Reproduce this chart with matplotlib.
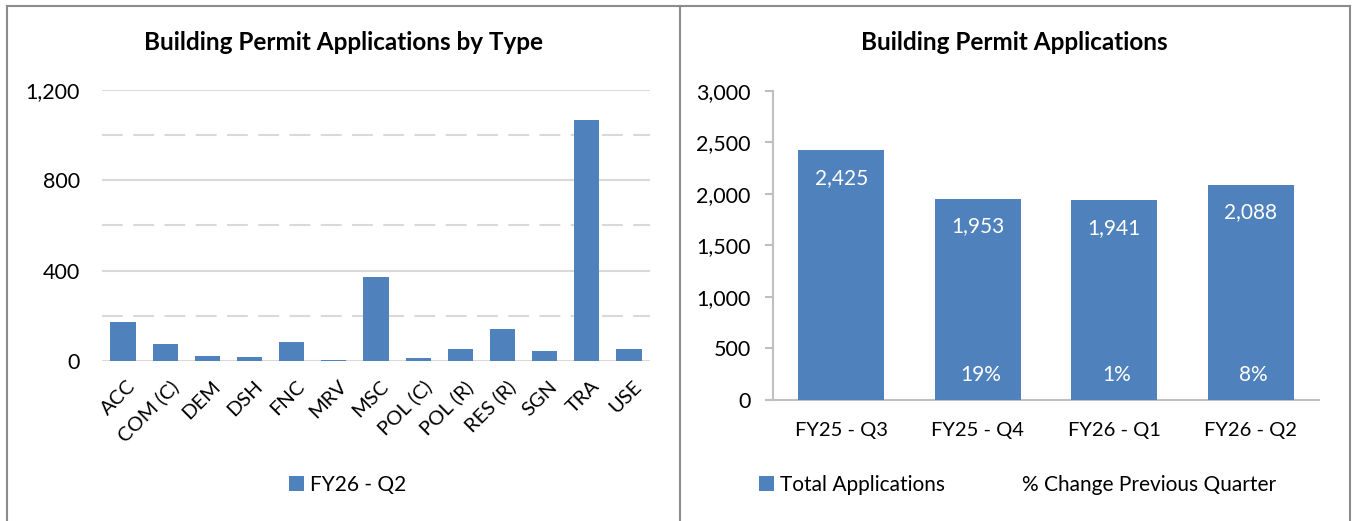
"""Building permit applications: by type and quarterly totals."""
import matplotlib
matplotlib.use("Agg")
from matplotlib import pyplot as pl
from matplotlib.lines import Line2D
import matplotlib.transforms as mtransforms
import matplotlib as mpl
import numpy as np

# Data
permit_types = ["ACC", "COM (C)", "DEM", "DSH", "FNC", "MRV", "MSC",
                "POL (C)", "POL (R)", "RES (R)", "SGN", "TRA", "USE"]
type_counts = [171, 74, 21, 16, 83, 4, 370, 12, 52, 140, 43, 1066, 52]
type_series = "FY26 - Q2"

quarters = ["FY25 - Q3", "FY25 - Q4", "FY26 - Q1", "FY26 - Q2"]
total_apps = [2425, 1953, 1941, 2088]
pct_change = [np.nan, 19, 1, 8]

# Aesthetics
mpl.rcParams["font.family"] = ["Lato", "DejaVu Sans"]
mpl.rcParams["text.color"] = "000000"
mpl.rcParams["xtick.color"] = "000000"
mpl.rcParams["ytick.color"] = "000000"
BLUE = "#4F81BD"
GRID = "#D9D9D9"
AXIS = "#BFBFBF"
BORDER = "#8C8C8C"
W, H = 1353, 521

fig = pl.figure(figsize=(W / 100, H / 100), dpi=100)


def fx(px):
    return px / W


def fy(py):
    return 1 - py / H


# Panel borders
for xs, ys in [((7, 7), (6, H)), ((7, 1350), (6, 6)),
               ((680, 680), (6, H)), ((1350, 1350), (6, H))]:
    fig.add_artist(Line2D([fx(xs[0]), fx(xs[1])], [fy(ys[0]), fy(ys[1])],
                          color=BORDER, lw=1.5, transform=fig.transFigure))

# ---- Left: applications by type
ax1 = fig.add_axes([fx(102), fy(361), fx(650) - fx(102), fy(90) - fy(361)])
x1 = np.arange(len(permit_types))
ax1.bar(x1, type_counts, width=0.6, color=BLUE, label=type_series, zorder=3)
ax1.set_xlim(-0.5, len(permit_types) - 0.5)
ax1.set_ylim(0, 1200)
ax1.set_yticks([0, 400, 800, 1200])
ax1.set_yticks([200, 600, 1000], minor=True)
ax1.yaxis.set_major_formatter(mpl.ticker.StrMethodFormatter("{x:,.0f}"))
ax1.grid(axis="y", which="major", color=GRID, lw=1.5, zorder=0)
ax1.grid(axis="y", which="minor", color=GRID, lw=1.5, ls=(0, (10, 5)), zorder=0)
ax1.tick_params(axis="y", which="both", length=0, pad=16, labelsize=15.5)
ax1.set_xticks(x1)
ax1.set_xticklabels(permit_types, rotation=45, ha="right",
                    rotation_mode="anchor", fontsize=14.5)
ax1.tick_params(axis="x", length=0, pad=12)
shift = mtransforms.ScaledTranslation(4 / 100, 0, fig.dpi_scale_trans)
for lbl in ax1.get_xticklabels():
    lbl.set_transform(lbl.get_transform() + shift)
for s in ax1.spines.values():
    s.set_visible(False)
fig.text(fx(344), fy(43), "Building Permit Applications by Type",
         ha="center", va="center", fontsize=17.5, fontweight="bold")
ax1.legend(loc="center", bbox_to_anchor=(fx(348), fy(485)),
           bbox_transform=fig.transFigure, frameon=False, fontsize=15,
           handlelength=0.7, handleheight=0.7, handletextpad=0.3)

# ---- Right: total applications
ax2 = fig.add_axes([fx(773), fy(400), fx(1319) - fx(773), fy(90.7) - fy(400)])
x2 = np.arange(len(quarters))
bars = ax2.bar(x2, total_apps, width=0.63, color=BLUE,
               label="Total Applications", zorder=3)
pct_line, = ax2.plot(x2, pct_change, ls="none", marker=None,
                     label="% Change Previous Quarter")
ax2.set_xlim(-0.5, len(quarters) - 0.5)
ax2.set_ylim(0, 3000)
ax2.set_yticks(range(0, 3001, 500))
ax2.yaxis.set_major_formatter(mpl.ticker.StrMethodFormatter("{x:,.0f}"))
ax2.tick_params(axis="y", length=6, width=1.5, color=AXIS, pad=10,
                labelsize=15.5)
ax2.set_xticks(x2)
ax2.set_xticklabels(quarters, fontsize=14.5)
ax2.tick_params(axis="x", length=0, pad=16)
for side in ["top", "right"]:
    ax2.spines[side].set_visible(False)
for side in ["left", "bottom"]:
    ax2.spines[side].set_color(AXIS)
    ax2.spines[side].set_linewidth(1.5)
for b, v in zip(bars, total_apps):
    ax2.annotate("{:,}".format(v), (b.get_x() + b.get_width() / 2, v),
                 xytext=(0, -20), textcoords="offset points",
                 ha="center", va="center", color="white", fontsize=15)
for i, p in enumerate(pct_change):
    if not np.isnan(p):
        ax2.annotate("{:.0f}%".format(p), (x2[i], 0),
                     xytext=(2, 18), textcoords="offset points",
                     ha="center", va="center", color="white", fontsize=15)
fig.text(fx(1014), fy(43), "Building Permit Applications",
         ha="center", va="center", fontsize=17.5, fontweight="bold")
ax2.legend(handles=[bars, pct_line], loc="center",
           bbox_to_anchor=(fx(1018), fy(485)),
           bbox_transform=fig.transFigure, frameon=False, fontsize=15,
           ncol=2, columnspacing=2.7,
           handlelength=0.7, handleheight=0.7, handletextpad=0.3)

pl.savefig("out.png", dpi=100)
pl.close()
